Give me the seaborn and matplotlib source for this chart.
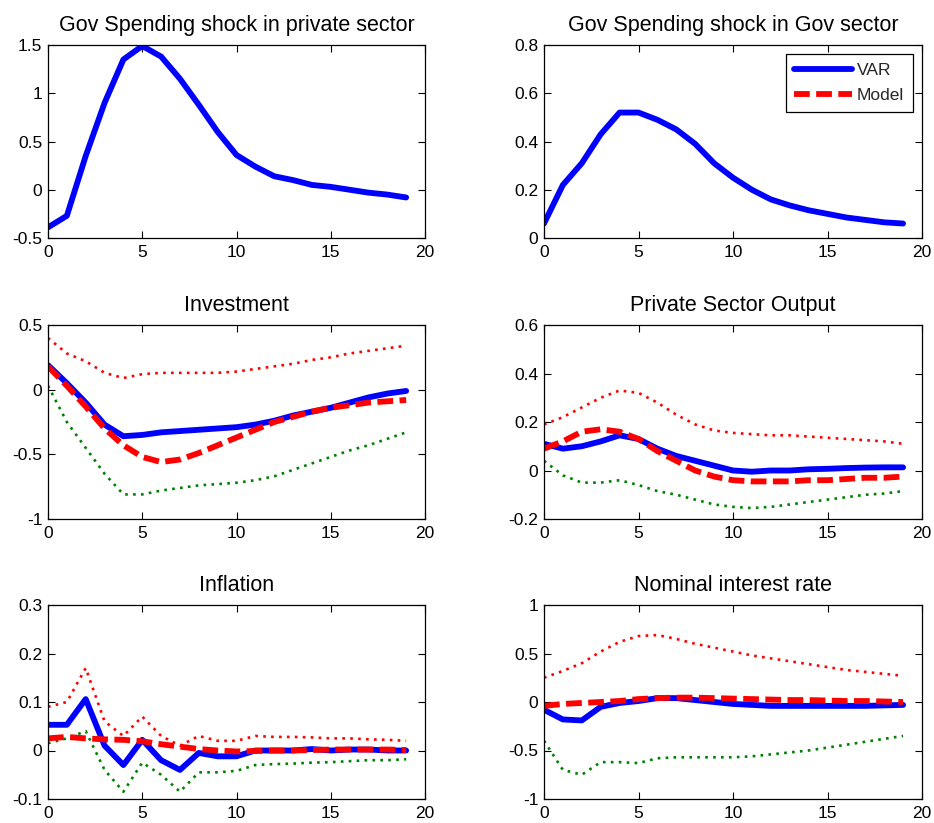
import numpy as np
import pandas as pd
import matplotlib
matplotlib.use("Agg")
import matplotlib.pyplot as plt
from matplotlib.lines import Line2D
import seaborn as sns

horizon = list(range(20))

gov_private_var = [-0.39, -0.27, 0.35, 0.90, 1.35, 1.49, 1.38, 1.15, 0.88, 0.60,
                   0.36, 0.24, 0.14, 0.10, 0.05, 0.03, 0.00, -0.03, -0.05, -0.08]
gov_gov_var = [0.06, 0.22, 0.31, 0.43, 0.52, 0.52, 0.49, 0.45, 0.39, 0.31,
               0.25, 0.20, 0.16, 0.135, 0.115, 0.10, 0.085, 0.075, 0.065, 0.06]

inv_var = [0.19, 0.05, -0.10, -0.27, -0.36, -0.35, -0.33, -0.32, -0.31, -0.30,
           -0.29, -0.27, -0.24, -0.20, -0.17, -0.14, -0.10, -0.06, -0.03, -0.01]
inv_model = [0.18, 0.03, -0.13, -0.30, -0.43, -0.52, -0.56, -0.54, -0.49, -0.43,
             -0.37, -0.31, -0.25, -0.21, -0.17, -0.14, -0.12, -0.10, -0.09, -0.08]
inv_upper = [0.40, 0.28, 0.22, 0.13, 0.09, 0.12, 0.13, 0.13, 0.13, 0.13,
             0.14, 0.16, 0.18, 0.20, 0.23, 0.25, 0.28, 0.30, 0.32, 0.34]
inv_lower = [0.03, -0.25, -0.45, -0.65, -0.81, -0.81, -0.78, -0.76, -0.74, -0.73,
             -0.72, -0.70, -0.67, -0.62, -0.57, -0.52, -0.47, -0.43, -0.38, -0.33]

out_var = [0.11, 0.09, 0.10, 0.12, 0.145, 0.13, 0.09, 0.06, 0.04, 0.02,
           0.00, -0.005, 0.0, 0.0, 0.005, 0.007, 0.01, 0.012, 0.013, 0.013]
out_model = [0.09, 0.12, 0.16, 0.17, 0.16, 0.13, 0.08, 0.04, 0.00, -0.025,
             -0.04, -0.045, -0.045, -0.045, -0.04, -0.04, -0.035, -0.03, -0.03, -0.025]
out_upper = [0.19, 0.22, 0.26, 0.30, 0.33, 0.32, 0.28, 0.23, 0.19, 0.165,
             0.155, 0.15, 0.145, 0.145, 0.14, 0.135, 0.13, 0.125, 0.12, 0.11]
out_lower = [0.04, -0.02, -0.05, -0.05, -0.04, -0.06, -0.085, -0.10, -0.12, -0.14,
             -0.15, -0.155, -0.15, -0.14, -0.13, -0.12, -0.11, -0.10, -0.095, -0.085]

inf_var = [0.053, 0.053, 0.106, 0.010, -0.030, 0.022, -0.020, -0.040, -0.005, -0.012,
           -0.012, 0.0, 0.0, 0.0, 0.003, 0.0, 0.002, 0.002, 0.0, 0.0]
inf_model = [0.025, 0.028, 0.025, 0.023, 0.022, 0.019, 0.013, 0.008, 0.003, 0.0,
             -0.002, -0.001, 0.0, 0.0, 0.001, 0.002, 0.002, 0.002, 0.002, 0.001]
inf_upper = [0.09, 0.10, 0.17, 0.06, 0.03, 0.07, 0.03, 0.01, 0.03, 0.02,
             0.02, 0.03, 0.028, 0.028, 0.027, 0.025, 0.025, 0.023, 0.022, 0.02]
inf_lower = [0.015, 0.025, 0.04, -0.04, -0.085, -0.025, -0.05, -0.085, -0.045, -0.045,
             -0.042, -0.03, -0.028, -0.027, -0.025, -0.024, -0.022, -0.02, -0.02, -0.018]

rate_var = [-0.08, -0.18, -0.19, -0.05, -0.01, 0.01, 0.04, 0.04, 0.02, 0.0,
            -0.02, -0.03, -0.04, -0.04, -0.04, -0.04, -0.04, -0.04, -0.035, -0.03]
rate_model = [-0.04, -0.02, -0.01, 0.0, 0.01, 0.03, 0.04, 0.045, 0.045, 0.04,
              0.035, 0.03, 0.025, 0.02, 0.02, 0.015, 0.01, 0.01, 0.005, 0.0]
rate_upper = [0.25, 0.32, 0.40, 0.52, 0.62, 0.68, 0.69, 0.65, 0.60, 0.56,
              0.52, 0.48, 0.45, 0.42, 0.39, 0.36, 0.33, 0.31, 0.29, 0.27]
rate_lower = [-0.40, -0.70, -0.75, -0.62, -0.62, -0.63, -0.58, -0.57, -0.57, -0.57,
              -0.57, -0.56, -0.54, -0.52, -0.50, -0.47, -0.44, -0.41, -0.38, -0.35]

titles = ["Gov Spending shock in private sector", "Gov Spending shock in Gov sector",
          "Investment", "Private Sector Output", "Inflation", "Nominal interest rate"]
ylims = [(-0.5, 1.5), (0, 0.8), (-1, 0.5), (-0.2, 0.6), (-0.1, 0.3), (-1, 1)]
yticks = [[-0.5, 0, 0.5, 1, 1.5], [0, 0.2, 0.4, 0.6, 0.8], [-1, -0.5, 0, 0.5],
          [-0.2, 0, 0.2, 0.4, 0.6], [-0.1, 0, 0.1, 0.2, 0.3], [-1, -0.5, 0, 0.5, 1]]
yticklabels = [["-0.5", "0", "0.5", "1", "1.5"], ["0", "0.2", "0.4", "0.6", "0.8"],
               ["-1", "-0.5", "0", "0.5"], ["-0.2", "0", "0.2", "0.4", "0.6"],
               ["-0.1", "0", "0.1", "0.2", "0.3"], ["-1", "-0.5", "0", "0.5", "1"]]

series = [
    {"var": gov_private_var},
    {"var": gov_gov_var},
    {"var": inv_var, "model": inv_model, "upper": inv_upper, "lower": inv_lower},
    {"var": out_var, "model": out_model, "upper": out_upper, "lower": out_lower},
    {"var": inf_var, "model": inf_model, "upper": inf_upper, "lower": inf_lower},
    {"var": rate_var, "model": rate_model, "upper": rate_upper, "lower": rate_lower},
]

sns.set_theme(style="white")
plt.rcParams["font.family"] = ["Liberation Sans", "DejaVu Sans"]
plt.rcParams["axes.unicode_minus"] = False

W, H = 934, 823
fig = plt.figure(figsize=(W / 100, H / 100), dpi=100)
fig.patch.set_facecolor("white")

cols = [(48, 425), (544, 922)]
rows = [(45, 238), (325, 519), (605, 799)]

BLUE = "#0000FF"
RED = "#FF0000"
GREEN = "#008000"
dash_style = (0, (2.7, 1.1))
dot_style = (0, (1.0, 2.0))

for i in range(6):
    r, c = divmod(i, 2)
    x0, x1 = cols[c]
    y0, y1 = rows[r]
    ax = fig.add_axes([x0 / W, 1 - y1 / H, (x1 - x0) / W, (y1 - y0) / H])
    s = series[i]
    df = pd.DataFrame({"h": horizon, **s})
    if "upper" in s:
        sns.lineplot(data=df, x="h", y="upper", color=RED, linewidth=1.9,
                     linestyle=dot_style, estimator=None, ax=ax)
        sns.lineplot(data=df, x="h", y="lower", color=GREEN, linewidth=1.9,
                     linestyle=dot_style, estimator=None, ax=ax)
    sns.lineplot(data=df, x="h", y="var", color=BLUE, linewidth=4.2,
                 estimator=None, ax=ax)
    if "model" in s:
        sns.lineplot(data=df, x="h", y="model", color=RED, linewidth=4.2,
                     linestyle=dash_style, estimator=None, ax=ax)
    ax.set_xlim(0, 20)
    ax.set_ylim(*ylims[i])
    ax.set_xticks([0, 5, 10, 15, 20])
    ax.set_xticklabels(["0", "5", "10", "15", "20"])
    ax.set_yticks(yticks[i])
    ax.set_yticklabels(yticklabels[i])
    ax.set_xlabel("")
    ax.set_ylabel("")
    ax.set_title(titles[i], fontsize=15.5, color="#000000", pad=10)
    ax.tick_params(direction="in", length=5, width=0.8, top=True, right=True,
                   bottom=True, left=True, labelsize=12.5, colors="black")
    ax.tick_params(axis="x", pad=5)
    ax.tick_params(axis="y", pad=4)
    for sp in ax.spines.values():
        sp.set_visible(True)
        sp.set_color("black")
        sp.set_linewidth(0.9)
    ax.set_facecolor("white")
    ax.grid(False)
    if i == 1:
        handles = [Line2D([], [], color=BLUE, linewidth=4.2),
                   Line2D([], [], color=RED, linewidth=4.2, linestyle=dash_style)]
        leg = ax.legend(handles, ["VAR", "Model"], loc="upper right",
                        bbox_to_anchor=(0.976, 0.953), borderaxespad=0,
                        fontsize=12.5, handlelength=3.3, handletextpad=0.3,
                        fancybox=False, framealpha=1, edgecolor="black",
                        borderpad=0.5, labelspacing=0.6)
        leg.get_frame().set_linewidth(0.9)

fig.savefig("out.png", dpi=100, facecolor="white")
